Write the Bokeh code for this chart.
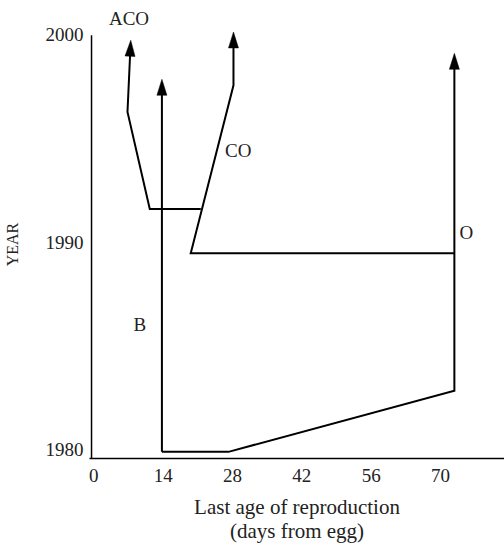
import math
from bokeh.plotting import figure
from bokeh.models import Range1d, FixedTicker
from bokeh.embed import file_html
from bokeh.resources import INLINE
from bokeh.core.properties import value

# ---- data ----
x_ticks = [0, 14, 28, 42, 56, 70]
y_ticks = [1980, 1990, 2000]

# lineages: (age, year) vertices, last vertex is the arrow tip
aco_x = [21.6, 11.3, 6.8, 7.46]
aco_y = [1991.6, 1991.6, 1996.28, 1999.73]

co_x = [72.8, 19.57, 28.2, 28.2]
co_y = [1989.47, 1989.47, 1997.56, 2000.13]

b_x = [13.75, 13.75]
b_y = [1979.9, 1997.85]

o_x = [13.75, 27.2, 72.8, 72.8]
o_y = [1979.9, 1979.9, 1982.85, 1999.1]

label_text = ["ACO", "CO", "B", "O"]
label_x = [7.1, 29.15, 9.28, 75.2]
label_y = [2000.76, 1994.44, 1986.02, 1990.46]

x_title = "Last age of reproduction\n(days from egg)"
y_title = "YEAR"

# ---- layout ----
W, H = 504, 545
BL, BR, BT, BB = 89, 0, 2, 86
X_START, X_END = -0.87, 82.92
Y_START, Y_END = 1979.58, 2001.55
AXIS_X = -0.46
AXIS_TOP = 1999.97
HEAD_LEN, HEAD_W = 16.0, 10.0
FONT = "Liberation Serif"
TXT = "#222222"
Y_TITLE_PAD = "\u00a0" * 7   # nudges the rotated title down a little

p = figure(width=W, height=H, output_backend="svg", toolbar_location=None,
           x_range=Range1d(X_START, X_END), y_range=Range1d(Y_START, Y_END),
           min_border_left=BL, min_border_right=BR, min_border_top=BT,
           min_border_bottom=BB)
p.outline_line_color = None
p.xgrid.visible = False
p.ygrid.visible = False
p.background_fill_color = "white"
p.border_fill_color = "white"

for ax in (p.xaxis[0], p.yaxis[0]):
    ax.major_tick_line_color = None
    ax.minor_tick_line_color = None
    ax.major_tick_out = 0
    ax.major_tick_in = 0
    ax.major_label_text_font = FONT
    ax.major_label_text_font_size = "19px"
    ax.major_label_text_color = TXT
    ax.axis_label_text_font = FONT
    ax.axis_label_text_font_style = "normal"
    ax.axis_label_text_color = TXT

p.xaxis.ticker = FixedTicker(ticks=x_ticks)
p.yaxis.ticker = FixedTicker(ticks=y_ticks)
p.xaxis.axis_line_width = 1.5
p.xaxis.major_label_standoff = 10
p.xaxis.axis_label = x_title
p.xaxis.axis_label_text_font_size = "21px"
p.xaxis.axis_label_text_line_height = 1.0
p.xaxis.axis_label_standoff = 10

p.yaxis.axis_line_color = None
p.yaxis.major_label_standoff = 6
p.yaxis.axis_label = y_title + Y_TITLE_PAD
p.yaxis.axis_label_text_font_size = "16px"
p.yaxis.axis_label_standoff = 22

# own y axis line (stops at 2000 like the reference)
p.segment(x0=[AXIS_X], y0=[Y_START], x1=[AXIS_X], y1=[AXIS_TOP],
          line_color="black", line_width=1.5)

sx = (W - BL - BR) / (X_END - X_START)
sy = (H - BT - BB) / (Y_END - Y_START)


def draw_arrow(xs, ys):
    x1, y1, x2, y2 = xs[-2], ys[-2], xs[-1], ys[-1]
    dx, dy = (x2 - x1) * sx, (y2 - y1) * sy
    L = math.hypot(dx, dy)
    ux, uy = dx / L, dy / L
    lx = list(xs[:-1]) + [x2 - ux * (HEAD_LEN - 3) / sx]
    ly = list(ys[:-1]) + [y2 - uy * (HEAD_LEN - 3) / sy]
    p.line(lx, ly, line_color="black", line_width=2, line_join="miter")
    bx, by = -ux * HEAD_LEN, -uy * HEAD_LEN
    nx, ny = -uy * HEAD_W / 2, ux * HEAD_W / 2
    pts = [(0, 0), (bx + nx, by + ny), (bx - nx, by - ny)]
    p.patch([x2 + a / sx for a, b in pts], [y2 + b / sy for a, b in pts],
            fill_color="black", line_color="black", line_width=0.5)


for xs, ys in ((aco_x, aco_y), (co_x, co_y), (b_x, b_y), (o_x, o_y)):
    draw_arrow(xs, ys)

p.text(x=label_x, y=label_y, text=label_text, text_font=value(FONT),
       text_font_size="19px", text_align="center", text_baseline="middle",
       text_color=TXT)

open("out.html", "w").write(file_html(p, INLINE))
